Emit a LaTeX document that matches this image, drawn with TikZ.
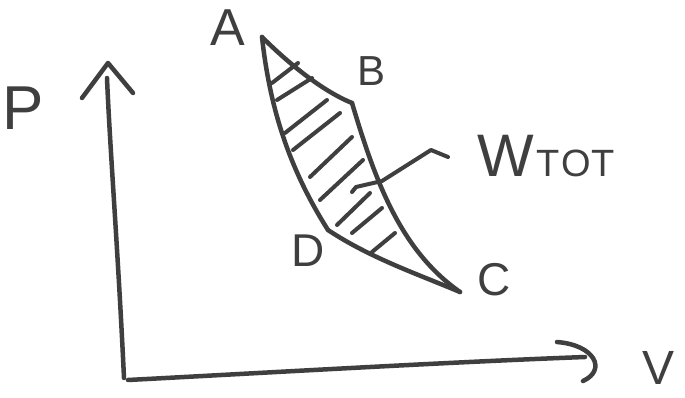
\documentclass[tikz,border=0pt]{standalone}
\usepackage{fontspec}
\setmainfont{Liberation Sans}
\definecolor{ink}{HTML}{3F3F3F}
\begin{document}
\begin{tikzpicture}[x=1pt,y=-1pt,
  pen/.style={draw=ink,line width=4.5pt,line cap=round,line join=round},
  hatch/.style={draw=ink,line width=4pt,line cap=round},
  lbl/.style={text=ink,inner sep=0pt,font=\fontsize{46}{46}\selectfont}]
\useasboundingbox[fill=white] (0,0) rectangle (685,398);
% axes
\coordinate (O) at (124,378);
\coordinate (Ptop) at (107,78);
\coordinate (Vend) at (585,357);
\draw[pen] (O) .. controls (118,250) and (110,150) .. (Ptop);
\draw[pen] (82,98) -- (108,63) -- (133,93);
\draw[pen] (128,380) .. controls (280,372) and (450,362) .. (Vend);
\draw[pen] (557,342) .. controls (595,345) and (607,370) .. (583,381);
\node[lbl,font=\fontsize{62}{62}\selectfont] (Plab) at (23,108) {P};
\node[lbl,font=\fontsize{48}{48}\selectfont] (Vlab) at (658,368) {V};
% cycle points
\coordinate (A) at (262,37);
\coordinate (B) at (352,103);
\coordinate (C) at (460,292);
\coordinate (D) at (328,230);
\draw[pen] (A) .. controls (285,60) and (320,90) .. (B);
\draw[pen] (B) .. controls (375,180) and (400,250) .. (C);
\draw[pen] (A) .. controls (270,110) and (290,170) .. (D);
\draw[pen] (D) .. controls (370,258) and (420,275) .. (C);
% hatching
\draw[hatch] (272,83) -- (298,63);
\draw[hatch] (277,100) -- (312,78);
\draw[hatch] (285,133) -- (327,100);
\draw[hatch] (293,150) -- (340,113);
\draw[hatch] (310,177) -- (352,137);
\draw[hatch] (320,200) -- (363,160);
\draw[hatch] (337,225) -- (370,193);
\draw[hatch] (352,233) -- (382,208);
\draw[hatch] (372,252) -- (395,233);
% labels
\node[lbl,font=\fontsize{52}{52}\selectfont] (Alab) at (228,28) {A};
\node[lbl,font=\fontsize{42}{42}\selectfont] (Blab) at (372,71) {B};
\node[lbl,font=\fontsize{46}{46}\selectfont] (Clab) at (494,280) {C};
\node[lbl,font=\fontsize{46}{46}\selectfont] (Dlab) at (308,251) {D};
\node[lbl,anchor=base west] (Wlab) at (477,177) {\fontsize{60}{60}\selectfont W\kern3pt\fontsize{38}{38}\selectfont T\kern1pt O\kern1pt T};
% leader
\coordinate (wend) at (448,157);
\draw[hatch,line join=round] (wend) -- (431,150) -- (382,181) -- (356,187) -- (352,192);
\end{tikzpicture}
\end{document}
